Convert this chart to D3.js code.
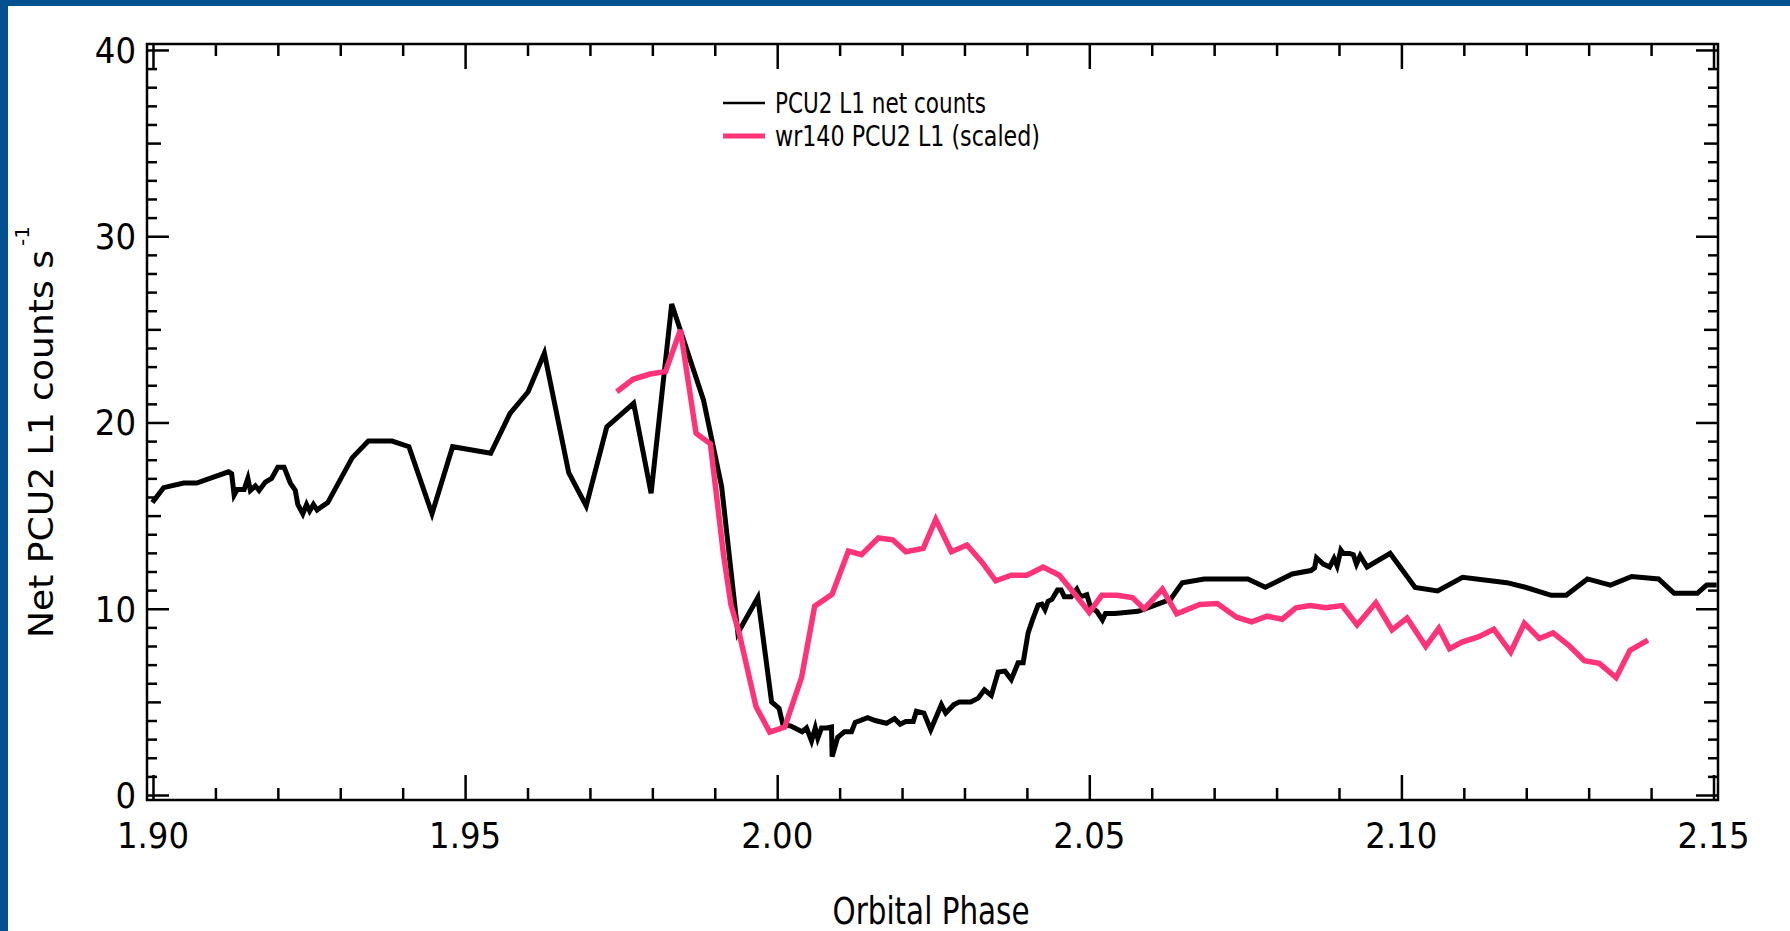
<!DOCTYPE html>
<html>
<head>
<meta charset="utf-8">
<script src="https://cdn.jsdelivr.net/npm/d3@7"></script>
<style>
  html, body { margin: 0; padding: 0; background: #ffffff; }
  #container { width: 1790px; height: 931px; }
</style>
</head>
<body>
<div id="container"></div>
<script>
// PCU2 L1 net counts
const netPhase = [
    1.8999, 1.9017, 1.9049, 1.9070, 1.9121, 1.9126, 1.9130, 1.9135, 1.9146, 1.9152,
    1.9156, 1.9164, 1.9170, 1.9180, 1.9190, 1.9200, 1.9210, 1.9220, 1.9228, 1.9232,
    1.9240, 1.9246, 1.9251, 1.9257, 1.9263, 1.9271, 1.9280, 1.9319, 1.9345, 1.9383,
    1.9410, 1.9447, 1.9480, 1.9541, 1.9572, 1.9601, 1.9627, 1.9666, 1.9694, 1.9727,
    1.9770, 1.9798, 1.9831, 1.9882, 1.9911, 1.9937, 1.9969, 1.9991, 2.0003, 2.0009,
    2.0022, 2.0040, 2.0047, 2.0055, 2.0061, 2.0065, 2.0071, 2.0079, 2.0087, 2.0088,
    2.0097, 2.0108, 2.0119, 2.0125, 2.0145, 2.0157, 2.0175, 2.0188, 2.0197, 2.0206,
    2.0218, 2.0223, 2.0235, 2.0246, 2.0263, 2.0270, 2.0283, 2.0292, 2.0310, 2.0322,
    2.0332, 2.0343, 2.0354, 2.0365, 2.0375, 2.0386, 2.0394, 2.0402, 2.0409, 2.0418,
    2.0424, 2.0429, 2.0434, 2.0440, 2.0449, 2.0455, 2.0460, 2.0471, 2.0480, 2.0486,
    2.0492, 2.0496, 2.0502, 2.0512, 2.0521, 2.0526, 2.0541, 2.0578, 2.0586, 2.0630,
    2.0649, 2.0684, 2.0754, 2.0782, 2.0825, 2.0855, 2.0861, 2.0864, 2.0875, 2.0885,
    2.0892, 2.0897, 2.0903, 2.0907, 2.0917, 2.0923, 2.0928, 2.0934, 2.0945, 2.0982,
    2.1022, 2.1058, 2.1098, 2.1169, 2.1200, 2.1240, 2.1264, 2.1298, 2.1335, 2.1369,
    2.1412, 2.1437, 2.1474, 2.1489, 2.1505
];
const netCounts = [
    15.7, 16.5, 16.75, 16.75, 17.35, 17.25, 16.1, 16.4, 16.4, 17.0,
    16.35, 16.6, 16.35, 16.8, 17.0, 17.6, 17.6, 16.75, 16.35, 15.6,
    15.1, 15.6, 15.25, 15.6, 15.3, 15.5, 15.7, 18.1, 19.0, 19.0,
    18.7, 15.1, 18.7, 18.35, 20.49, 21.65, 23.72, 17.3, 15.52, 19.77,
    21.03, 16.2, 26.36, 21.2, 16.55, 8.7, 10.6, 5.0, 4.65, 3.8,
    3.7, 3.4, 3.6, 2.9, 3.6, 3.05, 3.6, 3.6, 3.65, 2.06,
    3.1, 3.4, 3.4, 3.9, 4.15, 4.0, 3.85, 4.1, 3.8, 3.95,
    3.95, 4.5, 4.4, 3.5, 4.85, 4.4, 4.85, 5.0, 5.0, 5.2,
    5.65, 5.35, 6.6, 6.65, 6.2, 7.1, 7.1, 8.7, 9.4, 10.2,
    10.25, 9.95, 10.4, 10.5, 11.0, 11.0, 10.65, 10.65, 11.05, 10.65,
    10.7, 10.75, 10.1, 9.86, 9.4, 9.75, 9.75, 9.86, 9.95, 10.5,
    11.4, 11.6, 11.6, 11.15, 11.87, 12.05, 12.2, 12.73, 12.4, 12.24,
    12.7, 12.3, 13.15, 12.97, 12.97, 12.9, 12.4, 12.85, 12.24, 12.97,
    11.14, 10.96, 11.69, 11.4, 11.14, 10.72, 10.72, 11.6, 11.27, 11.73,
    11.6, 10.83, 10.83, 11.27, 11.27
];

// wr140 PCU2 L1 (scaled)
const wrPhase = [
    1.9743, 1.9769, 1.9796, 1.9821, 1.9845, 1.9870, 1.9893, 1.9914, 1.9926, 1.9939,
    1.9966, 1.9988, 2.0012, 2.0039, 2.0060, 2.0088, 2.0114, 2.0135, 2.0162, 2.0185,
    2.0206, 2.0234, 2.0254, 2.0279, 2.0304, 2.0328, 2.0350, 2.0375, 2.0400, 2.0426,
    2.0452, 2.0477, 2.0500, 2.0520, 2.0544, 2.0569, 2.0588, 2.0617, 2.0640, 2.0677,
    2.0705, 2.0736, 2.0760, 2.0785, 2.0809, 2.0831, 2.0854, 2.0879, 2.0905, 2.0929,
    2.0959, 2.0985, 2.1009, 2.1039, 2.1060, 2.1077, 2.1098, 2.1123, 2.1148, 2.1175,
    2.1197, 2.1221, 2.1243, 2.1268, 2.1293, 2.1317, 2.1344, 2.1366, 2.1395
];
const wrCounts = [
    21.65, 22.32, 22.6, 22.73, 24.97, 19.42, 18.85, 12.9, 10.2, 8.7,
    4.75, 3.38, 3.65, 6.3, 10.14, 10.78, 13.1, 12.9, 13.8, 13.7,
    13.06, 13.24, 14.8, 13.06, 13.42, 12.5, 11.5, 11.8, 11.8, 12.24,
    11.8, 10.78, 9.8, 10.72, 10.72, 10.6, 9.99, 11.05, 9.73, 10.23,
    10.28, 9.55, 9.3, 9.6, 9.44, 10.05, 10.17, 10.05, 10.17, 9.13,
    10.32, 8.86, 9.5, 7.98, 8.95, 7.85, 8.22, 8.49, 8.9, 7.67,
    9.22, 8.4, 8.7, 8.04, 7.21, 7.07, 6.3, 7.76, 8.31
];

const xMajor = [1.90, 1.95, 2.00, 2.05, 2.10, 2.15];
const xLabels = ['1.90', '1.95', '2.00', '2.05', '2.10', '2.15'];
const yMajor = [0, 10, 20, 30, 40];
const yLabels = ['0', '10', '20', '30', '40'];

const width = 1790, height = 931;
const plotLeft = 147, plotRight = 1718, plotTop = 44, plotBottom = 800;
const narrow = '"Liberation Sans Narrow", "Arial Narrow", "DejaVu Sans Condensed", sans-serif';

const svg = d3.select('#container')
    .append('svg')
    .attr('width', width)
    .attr('height', height)
    .style('background-color', '#ffffff');

// blue frame on the left and top
svg.append('rect').attr('x', 0).attr('y', 0).attr('width', 8).attr('height', height).attr('fill', '#03528f');
svg.append('rect').attr('x', 0).attr('y', 0).attr('width', width).attr('height', 6).attr('fill', '#03528f');

const x = d3.scaleLinear().domain([1.89904, 2.15072]).range([plotLeft, plotRight]);
const y = d3.scaleLinear().domain([-0.268, 40.32]).range([plotBottom, plotTop]);

const xMinor = d3.range(190, 216).map(d => d / 100).filter(d => !xMajor.some(m => Math.abs(m - d) < 1e-9));
const yMinor = d3.range(0, 41).filter(d => d % 10 !== 0);

// axes: ticks on all four sides, labels on bottom and left
const tickStyle = g => {
    g.select('.domain').remove();
    g.selectAll('.tick line').attr('stroke', '#000').attr('stroke-width', 2.5);
    g.selectAll('.tick text').remove();
};
svg.append('g').attr('transform', `translate(0,${plotBottom})`)
    .call(d3.axisBottom(x).tickValues(xMajor).tickSize(-25)).call(tickStyle);
svg.append('g').attr('transform', `translate(0,${plotBottom})`)
    .call(d3.axisBottom(x).tickValues(xMinor).tickSize(-12)).call(tickStyle);
svg.append('g').attr('transform', `translate(0,${plotTop})`)
    .call(d3.axisTop(x).tickValues(xMajor).tickSize(-25)).call(tickStyle);
svg.append('g').attr('transform', `translate(0,${plotTop})`)
    .call(d3.axisTop(x).tickValues(xMinor).tickSize(-12)).call(tickStyle);
svg.append('g').attr('transform', `translate(${plotLeft},0)`)
    .call(d3.axisLeft(y).tickValues(yMajor).tickSize(-22)).call(tickStyle);
svg.append('g').attr('transform', `translate(${plotLeft},0)`)
    .call(d3.axisLeft(y).tickValues(yMinor).tickSize(-10)).call(tickStyle)
    .selectAll('.tick line').attr('x2', d => d % 5 === 0 ? 14 : 10);
svg.append('g').attr('transform', `translate(${plotRight},0)`)
    .call(d3.axisRight(y).tickValues(yMajor).tickSize(-22)).call(tickStyle);
svg.append('g').attr('transform', `translate(${plotRight},0)`)
    .call(d3.axisRight(y).tickValues(yMinor).tickSize(-10)).call(tickStyle)
    .selectAll('.tick line').attr('x2', d => d % 5 === 0 ? -14 : -10);

svg.append('rect')
    .attr('x', plotLeft).attr('y', plotTop)
    .attr('width', plotRight - plotLeft).attr('height', plotBottom - plotTop)
    .attr('fill', 'none').attr('stroke', '#000').attr('stroke-width', 2.5);

// tick labels
svg.selectAll('.xlab').data(xMajor).enter().append('text')
    .attr('x', d => x(d)).attr('y', 848)
    .attr('text-anchor', 'middle')
    .style('font-family', narrow).style('font-size', '36px')
    .text((d, i) => xLabels[i]);
svg.selectAll('.ylab').data(yMajor).enter().append('text')
    .attr('x', 136).attr('y', d => y(d)).attr('dy', '0.36em')
    .attr('text-anchor', 'end')
    .style('font-family', narrow).style('font-size', '36px')
    .text((d, i) => yLabels[i]);

// axis titles
svg.append('text')
    .attr('x', 931).attr('y', 924)
    .attr('text-anchor', 'middle')
    .attr('textLength', 197).attr('lengthAdjust', 'spacingAndGlyphs')
    .style('font-family', narrow).style('font-size', '37px')
    .text('Orbital Phase');
const ytitle = svg.append('text')
    .attr('transform', 'translate(53,638) rotate(-90)')
    .attr('text-anchor', 'start')
    .style('font-family', '"DejaVu Sans", sans-serif').style('font-size', '34px');
ytitle.append('tspan')
    .attr('textLength', 388).attr('lengthAdjust', 'spacingAndGlyphs')
    .text('Net PCU2 L1 counts s');
ytitle.append('tspan').attr('dx', 4).attr('dy', -24).style('font-size', '20px').text('-1');

// data lines
const line = d3.line().x(d => x(d[0])).y(d => y(d[1]));
svg.append('path')
    .datum(d3.zip(netPhase, netCounts))
    .attr('d', line)
    .attr('fill', 'none').attr('stroke', '#000').attr('stroke-width', 5)
    .attr('stroke-linejoin', 'miter');
svg.append('path')
    .datum(d3.zip(wrPhase, wrCounts))
    .attr('d', line)
    .attr('fill', 'none').attr('stroke', '#ff337a').attr('stroke-width', 5.5)
    .attr('stroke-linejoin', 'miter');

// legend
const legend = [
    {label: 'PCU2 L1 net counts', color: '#000', w: 2.7, y: 103, len: 211},
    {label: 'wr140 PCU2 L1 (scaled)', color: '#ff337a', w: 5, y: 136, len: 265}
];
legend.forEach(l => {
    svg.append('line')
        .attr('x1', 723).attr('x2', 765).attr('y1', l.y).attr('y2', l.y)
        .attr('stroke', l.color).attr('stroke-width', l.w);
    svg.append('text')
        .attr('x', 775).attr('y', l.y + 10)
        .attr('textLength', l.len).attr('lengthAdjust', 'spacingAndGlyphs')
        .style('font-family', narrow).style('font-size', '28px')
        .text(l.label);
});
</script>
</body>
</html>
